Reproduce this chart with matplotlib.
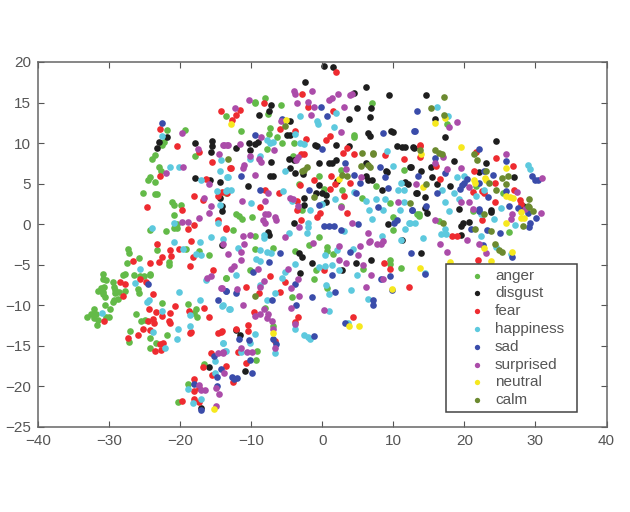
import matplotlib
matplotlib.use("Agg")
from matplotlib import pyplot as plt

plt.rcParams['font.family'] = ['Liberation Sans', 'DejaVu Sans']

labels = ["anger", "disgust", "fear", "happiness", "sad", "surprised", "neutral", "calm"]
colors = ["#63ba48", "#1e1e1e", "#ee2b30", "#5dc9de", "#3a4caa", "#ab4ca9", "#f6e81e", "#6c8a30"]

# points, (x, y)
anger = [(-21.8,11.6),(-19.3,11.6),(-22.3,10.1),(-22.5,9.8),(-17.9,8.4),(-23.6,8.5),(-24,8.1),(-23,7.1),(-22.7,6.5),
    (-24.3,5.8),(-24.5,5.4),(-23.5,5.2),(-25.2,3.8),(-23.6,3.7),(-23.2,3.7),(-13.5,3.8),(-21.1,2.8),(-20.8,2.4),(-19.9,2.4),
    (-20.9,1.1),(-20.4,0),(-24.2,-0.7),(-22,-0.8),(-20.9,-0.5),(-20.4,-0.5),(-8.1,15.6),(-9.5,15.1),(-9.4,14.9),(-5.8,14.7),
    (7,14.9),(-7.6,13.6),(-13.6,13.4),(-7.3,11.9),(-11.4,11.5),(-7.5,11.1),(-6.3,10.7),(4.4,11),(4.5,10.8),(-5.7,10),(-4,10),
    (-7.8,9.3),(-4.1,8.4),(11.5,6.7),(2.6,6.7),(-0.4,6),(7.5,4.7),(-3.3,4.9),(0.3,4.3),(2.8,4.2),(5.6,3.2),(9.6,2.6),(2.6,2.3),
    (-2.8,1.7),(-12.1,1.2),(-11.7,1),(-11.3,0.6),(-9.9,0.9),(9.9,0.9),(13.6,1.2),(10,-0.7),(-12.6,-0.7),(-9.4,-1.5),(-0.4,-1.6),
    (17.5,12.3),(21.7,4.7),(25.5,3.9),(13.4,1.2),(13.6,1),(21.2,1.6),(16.4,0.4),(26.3,-0.9),
    (-27.4,-3.1),(-27.2,-3.5),(-25.8,-4.2),(-27.5,-4.8),(-30.9,-6.1),(-28.1,-6.3),(-27.8,-6.1),(-26.5,-6.2),(-25.6,-6.4),
    (-25.1,-6.4),(-24.2,-6.1),(-24.3,-6.3),(-30.9,-6.8),(-30.5,-6.9),(-29.4,-7.1),(-31.2,-7.9),(-30.7,-7.8),(-31.6,-8.2),
    (-30.9,-8.3),(-30.6,-9),(-30.8,-8.6),(-29.3,-7.7),(-29.1,-8.1),(-28.6,-8.4),(-29.1,-8.5),(-27.7,-8.2),(-25.9,-8),(-25.8,-8.5),
    (-28.7,-9.2),(-29.3,-9.4),(-29.5,-9.6),(-30.6,-9.9),(-22.6,-9.7),(-18.9,-9.8),(-29.9,-10.5),(-32.1,-10.5),(-32.6,-11.1),
    (-33.1,-11.5),(-31.9,-11.1),(-32.1,-11.6),(-31.7,-12.4),(-30.5,-11.4),(-30,-11.5),(-31.6,-11.8),(-26.2,-11.1),(-25.5,-11.9),
    (-24.9,-11.8),(-17.8,-10.5),(-18.1,-11),(-17.6,-11.4),(-27.1,-13.2),(-21.9,-13.7),(-24.3,-14),(-27.2,-14.5),(-23.4,-14.6),
    (-24.2,-15.2),(-16.7,-17.2),(-18.9,-19.7),(-20.3,-21.9),(-23.2,-3.2),(-19.2,-3.1),(-17.4,-3.3),(-15.9,-3.8),(-21.5,-4.6),
    (-21.5,-5),(-13.6,-6.6),(-9.5,-3.1),(-7,-2.9),(-3.9,-3.3),(-1.9,-2.6),(0.6,-2.8),(0.6,-3.3),(1.5,-3.7),(9.6,-4.4),(9.6,-4.9),
    (5.8,-5.5),(11.1,-5.4),(-0.9,-5.7),(-10.2,-5.6),(-13.6,-6.6),(-1.1,-6.8),(0.6,-7.9),(-4.3,-9),(-8,-10.3),(-7,-12.5),(-9.2,-15.6),(-9.3,-16.7)]
disgust = [(-21.8,10.8),(-23,10.1),(-23.2,9.4),(-17.9,10),(-15.5,10.3),(-15.5,9.6),(-15.6,8.9),(-17.9,5.7),(-15.8,5.4),(-14.4,5.2),
    (-14.4,3.2),(-14.1,2.2),(-14.1,1.6),(0.2,19.5),(1.5,19.4),(-2.4,17.5),(6.2,16.9),(4.5,16.2),(9.4,15.9),(-7.2,14.7),(6.9,14.3),
    (4.9,14.3),(6.7,13.2),(3.8,13),(-7.5,14),(-8.9,13.5),(-4.5,12.7),(-4.9,11),(-4.6,11),(6.5,11.2),(6.7,10.9),(9.7,11.5),(10,11.4),
    (-10.3,10),(-9.4,9.9),(-9.1,10.1),(-12.1,9.4),(-10.2,9.2),(-1,9.8),(-0.7,9.7),(2,9.8),(3.7,9.7),(10.5,9.6),(11.2,9.5),(11.7,9.5),
    (12.9,9.4),(-4.7,8.1),(-4,7.9),(-7.2,7.7),(-0.5,7.5),(0.9,7.5),(1.4,7.5),(1.9,7.9),(-4.6,6.9),(-3.8,6.3),(-2.7,6.2),(-7.3,5.9),
    (-6.9,5.9),(6.2,7.5),(9,6.5),(9.1,6.4),(12.4,7),(6.1,6),(2.1,5.3),(-0.5,4.8),(6.4,5.4),(7,5.4),(8.4,4.2),(11.7,5.2),(12,5),(13.3,3.8),
    (-10.5,4.7),(-2.6,3.2),(-0.9,3.8),(0.5,3.6),(-0.1,3.8),(0.5,2.7),(-2.5,2.4),(-4,0.1),(9.3,0),(-7.6,-0.9),(-7.5,-1.3),(11.2,-2),
    (14.6,15.9),(15.9,13),(17.3,10.7),(24.5,10.3),(12.8,9.5),(18.5,7.8),(23,7.5),(15.3,7.1),(12.5,7),(13.9,6.5),(22.1,6.4),(27,5.8),
    (15.5,5.8),(16.2,4.9),(18,4.7),(13.2,3.8),(14.5,3.4),(28.3,2.2),(19.3,1.9),(14.5,2),(14.8,1.4),(23.7,1.8),(23.7,1.5),(20.7,0.3),
    (19.8,0.2),(19.5,-0.2),(19.5,-1.3),(13.9,-3.5),(-16,-17.6),(-17,-22.6),(-14.1,-2.6),(-3.3,-3.5),(-2.9,-4.1),(-1.5,-4.8),(4.7,-4.8),
    (6.9,-4.4),(2.8,-5.7),(-3.1,-6),(-12.1,-13),(-11.6,-13.7),(-10.9,-18.1)]
fear = [(-22.9,11.7),(-20.5,9.6),(-17.3,8.9),(-15.5,7.7),(-22.9,6),(-16.3,5.6),(-13,6.9),(-14.1,4),(-24.6,2.1),(-18.1,3.5),(-16.8,3),
    (-14.6,3.5),(-19.8,1.7),(-18,-0.1),(-14.7,0.5),(-18.9,-0.6),(-13.5,-0.6),(-23.3,-2.4),(-18.5,-2.1),(1.9,18.8),(-2.9,16),(-8.2,14.9),
    (-2,14.4),(1.5,13.9),(-11.6,14.1),(-12.1,13.5),(-12.7,12.9),(-14.2,13.9),(-5.9,11.7),(-3.9,11.5),(1.1,10.9),(0.5,10.4),(-2.3,10.5),
    (3.5,9.4),(2.9,8.8),(-3,8.7),(-2.5,8.6),(4.5,8.7),(8.8,8.5),(13.7,9.7),(11.5,8),(-12.8,6.9),(1.2,6),(1.8,5),(-1.2,5.4),(1.1,4.3),(3.9,5.1),
    (-3.2,4.8),(-8.1,4.2),(-13.4,3.8),(-6.1,3.9),(-3.6,2.9),(3,3.5),(3.5,1.4),(-8.8,2.1),(-3.5,1.7),(-0.3,1.4),(-0.7,0.9),(-3,0.5),(-13.5,-0.5),
    (13.8,9.8),(13.8,8.3),(21.6,8.9),(24.5,8.2),(26.8,7.2),(16,7.2),(21.3,6.6),(16.6,5.6),(24.3,5.1),(21.2,4),(22.5,4.1),(22.8,3.9),(27,4.2),
    (27.8,3),(27.9,2.5),(24.3,2.8),(22.5,0.5),(18.3,-1.4),(19,-1.5),(21.9,-4.4),
    (-26.7,-4.5),(-25.6,-6.8),(-28.5,-7.1),(-27.7,-7.4),(-24.8,-7.1),(-28,-8.8),(-23.8,-8.6),(-20.7,-10.1),(-16.6,-10.3),(-30.7,-11.9),
    (-24.4,-10.5),(-23.4,-10.8),(-24.5,-11.9),(-23.8,-11.7),(-23.7,-12.2),(-22.6,-11.3),(-21.4,-11),(-21.5,-11.9),(-21.4,-12.2),(-18.7,-10.7),
    (-16,-11.5),(-18.4,-13.3),(-18.6,-13.4),(-25.2,-12.9),(-25.9,-13.7),(-24.3,-13.1),(-27.4,-14),(-14.7,-13.4),(-14.1,-13.2),(-22.8,-14.8),
    (-22.4,-14.7),(-23.6,-15.6),(-22.7,-15.5),(-15.7,-15.9),(-16.8,-17.6),(-13.5,-17.5),(-15.5,-18.6),(-18.1,-19.1),(-17.3,-20.2),(-18,-20.6),
    (-18.1,-21.6),(-19.7,-21.8),(-17.4,-21.9),(-21.4,-3.2),(-20.2,-3),(-18.2,-4.1),(-22.5,-4.1),(-23,-4.7),(-21.3,-3.9),(-24.2,-4.8),(-18.6,-5.1),
    (-15.4,-5.7),(8.7,-4.8),(0.2,-5.7),(9.6,-5.5),(-7.4,-6.4),(-5.2,-7.1),(-10.7,-7.7),(12.2,-7.7),(-6,-8.4),(-8.9,-8.5),(-9.6,-10.8),(-3.4,-11.4),
    (4.3,-11.5),(-3.8,-12),(-10.5,-12.4),(-10.5,-13.2),(-12.2,-12.9),(-14.2,-13.3),(-6.6,-14.4),(-11.9,-15.8),(-10.7,-17.1),(-12.6,-19.5)]
happiness = [(-22.5,10.9),(-14.3,7.9),(-21.4,7),(-20.2,7.1),(-17,5.5),(-14.4,6.6),(-13.4,5.8),(-14.8,4.1),(-13.4,4.2),(-14.4,2.4),
    (-20.9,0.1),(-14.6,0.1),(-23.9,-0.5),(-15.7,-1.6),(-14,-1.8),(-20.9,-2.2),(-17.2,-2.2),(2,13.7),(-3.2,13.3),(-0.8,12.7),(-0.6,12.3),(1.6,12),
    (-3.9,11.1),(-7.8,10.4),(-7.3,10),(-7,10.1),(-3.1,10),(-2.6,9.9),(9.1,9),(-8.7,8.4),(-10.1,8.1),(9.9,7.2),(-5.3,6.5),(-13.3,5.8),(10.7,4.2),
    (11.5,4.2),(11.1,5.1),(-13.6,4.1),(-12.9,4.2),(-5.5,4.1),(-10,2.6),(-4.2,2.9),(1.8,3.1),(4.5,4),(6.2,2.9),(7.6,3.1),(8.8,3.1),(11.5,2.8),(0,2.5),
    (8.5,1.7),(11,1.8),(-1.7,1.8),(6.6,1.7),(7,0.7),(-2,0.1),(-2,-0.3),(-2.2,-1.1),(3.1,-0.8),(12.2,0.2),(13.1,0.1),(11.7,-0.6),(-8.2,-1.3),(-8.2,-1.7),
    (-4.7,-1.1),(8.4,-1.5),(11.1,-2),(16.2,14.5),(17.7,13.4),(28.9,7.3),(29.3,6.8),(19,5.8),(19.9,5.9),(16.8,4.2),(18.5,3.9),(22.7,4.2),(21.6,3.5),
    (17.3,2.8),(19.3,3.1),(25.2,2),(17.9,1.6),(22.3,1.2),(24.1,0.7),(27.1,-0.1),(12.4,0.1),(17.3,-0.6),(16.7,-1.2),(17.4,-1.2),(22.4,-1.5),(14.2,-1.7),
    (24.4,-2.8),(26.6,-3.7),(-25.7,-5.5),(-26.3,-7.3),(-20.2,-8.3),(-24.4,-9.4),(-24.7,-9.6),(-17.2,-9.4),(-31,-10.9),(-22.5,-10.7),(-18.6,-11.2),
    (-18.6,-12.5),(-20.3,-12.9),(-23.8,-13.3),(-20.4,-14.1),(-22.1,-15.2),(-14,-14.7),(-13.6,-15.6),(-15.1,-16.9),(-15.1,-18.3),(-18.9,-20.3),(-17,-21.6),
    (-18.2,-22),(-19.6,-3.1),(-17.7,-3.7),(-17,-3.8),(-16.3,-6.9),(-14.1,-10.1),(-13.1,-10.4),(-11.8,-2.9),(-8.7,-3.2),(-7.8,-3.4),(-7.2,-3.5),(-9.3,-4.3),
    (-8.7,-4.5),(-3.9,-4.9),(0.4,-3.8),(2.1,-3.2),(4.3,-3.1),(-0.5,-5.3),(0.4,-5.2),(1.4,-5),(2.4,-5.7),(-5.2,-5.9),(-12.2,-6.2),(-5.6,-6.6),(4.9,-6.3),
    (-8.7,-7.5),(0.5,-7.5),(1,-8.6),(4.1,-8.1),(-6.7,-8.5),(-7.8,-9.4),(-13.9,-10),(-13,-10.5),(6.5,-9.2),(1,-10.7),(3.6,-12.2),(-3.9,-12.9),(-9.4,-13.5),
    (-6.6,-15.9),(-2.5,-13.6),(-2,-13.9),(-1.7,-14.1),(-13.9,-14.6),(-10.1,-14.6),(-11.4,-15.7),(-13.7,-15.6),(14.5,-6)]
sad = [(-22.6,12.5),(-0.2,14.4),(13.4,14),(0.7,13.4),(-5.7,13),(-9.5,11),(8.5,11.3),(13,11.5),(0,9.3),(3.2,7.5),(8.1,7.1),(-11.5,6),(13.5,6),(4.4,6.1),
    (5.3,5.1),(8.8,5.8),(9.3,4.5),(-1.9,4.2),(-8.8,4.2),(4.7,3.8),(-0.5,2.4),(7.8,2.1),(12.6,1.8),(5,0),(0.3,-0.2),(0.9,-0.2),(1.7,-0.2),(2.6,-0.7),
    (10.1,0.2),(10.5,0.5),(12.9,11.5),(15.8,8.2),(22,9.3),(25.9,7.8),(17.3,6.3),(22.7,6.6),(24,6.1),(29.5,6),(29.9,5.4),(30.3,5.4),(20.4,5.6),(19.9,5.1),
    (19.6,4.8),(19.4,4.4),(22.1,5.1),(16.1,3.8),(25.9,4.1),(23.3,3.4),(14.6,2.3),(26.3,2.3),(27.5,2),(12.7,1.8),(22,1.9),(22.1,1.6),(28.9,1.4),(30.1,0.8),
    (29.3,0.2),(29.1,-0.3),(20.9,-0.6),(23.2,-0.7),(25,-1.1),(22.6,-2.6),(26.7,-4),(12.5,-3.6),(-24.5,-7.4),(-13.6,-8.2),(-14.6,-9.3),(-15.2,-16.2),
    (-14.2,-17.8),(-14.8,-18.8),(-18.1,-19.7),(-14.8,-19.9),(-17,-22.9),(-6,-3.6),(-7.5,-4.6),(3.9,-3.4),(-9.8,-5.9),(14.5,-6.1),(1.4,-6.3),(8.3,-6.8),
    (9.5,-6.4),(-3.9,-7.4),(-12.2,-8.5),(-13.5,-8.2),(1.8,-8.4),(-1.4,-9),(-7.1,-9.4),(-3.7,-10),(7.2,-9.4),(7.2,-10),(3.2,-12.2),(-11.7,-14.1),(-10.3,-14.3),
    (-7,-14.1),(-6.5,-14.8),(-1.2,-13.8),(-10.1,-16.8),(-9.9,-18.4),(-12.7,-18.8),(-12,-19),(-12.4,-19.1),(9.8,-8.1)]
surprised = [(-19.8,11.3),(-17.5,9.3),(-14.5,8.7),(-13.8,9.8),(-13.3,9.8),(-19.6,7.1),(-22,6.3),(-15.9,5),(-16.7,3.2),(-15.6,2.3),(-16,1.4),(-17.4,0.8),
    (-19.8,0.3),(-18.9,0.3),(-14,-2.4),(-4,16.4),(-3.8,16.1),(-1.5,16.4),(2.2,16),(1.4,15.6),(1,15.3),(3.9,15.9),(4.2,16),(-10.3,15.3),(-3.5,14.9),(-2,15.1),
    (-1.2,14.5),(3,14.4),(-1.6,13.5),(-12.3,14.3),(-5.8,12.7),(-8.6,10.7),(2.6,11.4),(-11.6,9.9),(-13.9,9.8),(-13.4,9.8),(-6.8,9.1),(-3.4,8.3),(-3.7,7.9),
    (-10.1,8.4),(-8.9,8.1),(-8.6,7.7),(-11,7.3),(-11.1,6.9),(-9.4,6.1),(3.3,6.8),(5.4,5.8),(-7.6,3.8),(-11.3,2.9),(-8,2.9),(-4.5,3.2),(-4.1,3.1),(-3.4,2.3),
    (10.6,2.8),(2.7,2.1),(-8,1.3),(-7.6,1.3),(-6.6,0.9),(-6.5,0.5),(-8.3,0.5),(-8.1,0.1),(-3.3,-0.3),(4.2,0.1),(-11.1,-1.5),(-10.2,-1.3),(-5.3,-1.6),(6.5,-1.1),
    (6.7,-2.1),(18.9,12.6),(17.9,12),(17,8.3),(25.9,8.7),(15.9,7.5),(17.6,6.8),(19.5,6.9),(30.9,5.7),(13.2,4.9),(20.7,4.6),(27.4,4),(19.5,2.7),(20.7,2.8),(21.2,1.9),
    (26.7,1.2),(26.5,0.7),(28.6,1.9),(30.8,1.4),(15.9,0.5),(20.3,-2),(16.5,-2.5),(22,-2.4),(17.6,-3.4),(23.1,-3.6),(-15.7,-6.4),(-16.2,-6.6),(-14.2,-7.9),(-14.6,-15.9),
    (-13.9,-15.8),(-13.8,-18.4),(-17.4,-19.8),(-17,-20.5),(-16.5,-20.5),(-15,-20.2),(-14.5,-20.9),(-15,-22.4),(-13.3,-3.7),(-11.5,-3.4),(-11,-2.5),(-1.3,-2.3),(2.4,-2.7),
    (5.3,-2.7),(5,-3.8),(6.6,-2.2),(7.7,-2.5),(8.3,-2.4),(8.6,-2.1),(-11.4,-4.4),(2.4,-4.4),(3.3,-4.8),(5.8,-5),(-9.1,-5.5),(-12.4,-5.2),(-12.9,-5.5),(-4.8,-5.5),(6.8,-6.2),
    (8.5,-6.7),(-3.4,-6.8),(-8.2,-7),(-8.8,-7.8),(-4.4,-7.9),(6.2,-7.8),(-12,-8),(-14.1,-7.9),(-3.3,-8.8),(-11.1,-9.9),(-4.4,-10.3),(0.3,-10.6),(-8.2,-10.5),(-9.5,-11.3),
    (-8.8,-11.1),(-7.8,-11.6),(-7.6,-11.1),(-7.1,-11.9),(-3.9,-12.3),(-7,-12.9),(-6.6,-15.2),(-11.4,-15.2),(-10.6,-15.7),(-9.9,-15.7),(-13.9,-15.9)]
neutral = [(-5.1,12.8),(-12.9,12.3),(2.3,5.6),(19.5,9.5),(15.8,12.5),(17.3,13.1),(13.9,8.7),(25.9,6.9),(21.4,5.5),(21.5,5.1),(22.9,5.7),(23,5.4),(14.2,4.6),(25.9,3.5),(26.4,3.3),
    (26.9,3.2),(27.9,1.5),(28,0.8),(28.4,0.8),(25.8,0.2),(22.7,-2.9),(26.7,-3.4),(18,-4.6),(23.7,-4.5),(-15.2,-22.8),(13.8,-5.4),(9.8,-8),(-7,-13.4),(3.7,-12.5),(5.2,-12.5)]
calm = [(-13.3,8.1),(-5.2,12.1),(5.6,8.8),(7.1,8.8),(7.2,8.6),(-2.1,7),(-2.6,6.7),(-2.8,6.5),(5.5,7.2),(6.5,7.3),(6.7,7),(2.8,6.1),(3.5,6),(-1.1,3.4),(12.3,2.6),(17.1,15.7),(15.3,14.3),
    (17.1,13.5),(13.7,9.1),(15.8,9.2),(16.4,8.8),(16.9,8.7),(21.3,8.6),(21.8,7.9),(23,6.5),(25.3,5.7),(26.1,5.9),(23.5,5.1),(25.8,4.9),(14.6,4.9),(24.4,4.2),(29.1,3.1),(29,2.2),
    (22.8,1.3),(29.6,1.6),(29.1,2.1),(28.2,-0.2),(17,0.1),(21.5,-0.6),(23.7,-0.8),(24.3,-2.5),(24.9,-3.2),(25.3,-3.4),(-9.5,-8.9)]
series = [anger, disgust, fear, happiness, sad, surprised, neutral, calm]

xticks = [-40, -30, -20, -10, 0, 10, 20, 30, 40]
yticks = [-25, -20, -15, -10, -5, 0, 5, 10, 15, 20]

fig = plt.figure(figsize=(6.3, 5.12), dpi=100)
ax = fig.add_axes([38 / 630, 1 - 427 / 512, 568.5 / 630, 365 / 512])

for pts, name, c in zip(series, labels, colors):
    xs, ys = zip(*pts)
    ax.scatter(xs, ys, s=23, color=c, linewidths=0, label=name)

ax.set_xlim(-40, 40)
ax.set_ylim(-25, 20)
ax.set_xticks(xticks)
ax.set_yticks(yticks)
ax.tick_params(direction='in', top=True, right=True, length=4, width=0.8, color='#555555',
               labelcolor='#555555', labelsize=11, pad=5)
for s in ax.spines.values():
    s.set_color('#666666')
    s.set_linewidth(1.1)

# legend box stretched to the width it has in the picture
leg = ax.legend(loc='upper left', mode='expand', borderaxespad=0,
                bbox_to_anchor=((446 - 38) / 568.5, (427 - 408) / 365, 131 / 568.5, 144 / 365),
                fontsize=11, labelspacing=0.25, handletextpad=-0.5, borderpad=0.3, handlelength=3.4,
                scatterpoints=1, markerscale=0.8, fancybox=False, framealpha=1, edgecolor='#444444')
leg.get_frame().set_linewidth(1.1)
for t in leg.get_texts():
    t.set_color('#555555')

fig.savefig("out.png", dpi=100)
